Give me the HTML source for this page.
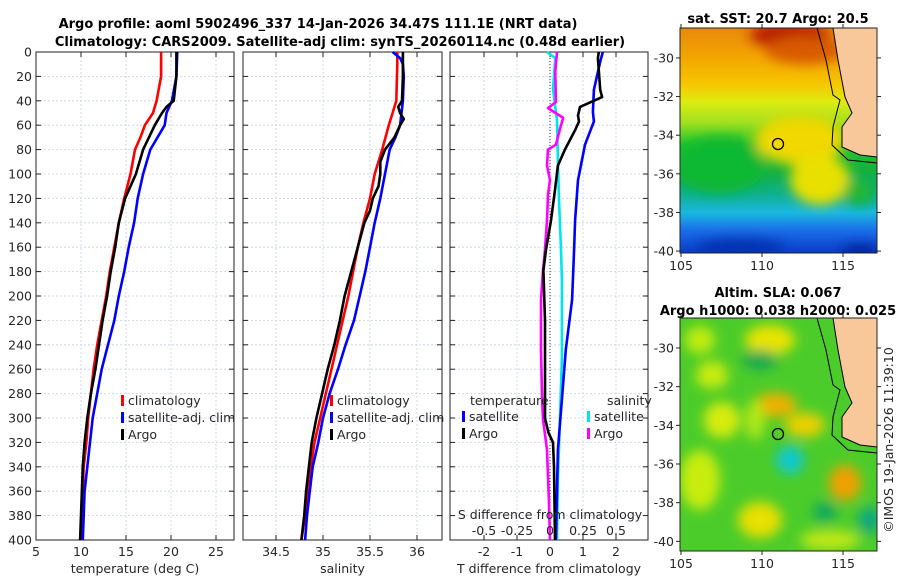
<!DOCTYPE html>
<html><head><meta charset="utf-8"><style>
html,body{margin:0;padding:0;background:#fff;}
svg{display:block;font-family:"DejaVu Sans","Liberation Sans",sans-serif;}
.t{font-size:12.5px;fill:#262626;}
.b{font-weight:bold;font-size:13px;fill:#000;}
</style></head><body>
<svg id="fig" width="900" height="580" viewBox="0 0 900 580" xmlns="http://www.w3.org/2000/svg">
<defs>
<filter id="blur6" x="-50%" y="-50%" width="200%" height="200%"><feGaussianBlur stdDeviation="6"/></filter>
<clipPath id="clipSST"><rect x="680" y="28" width="197" height="225"/></clipPath>
<clipPath id="clipSLA"><rect x="680" y="318" width="197" height="233"/></clipPath>
<linearGradient id="sstg" x1="0" y1="0" x2="0" y2="1">
<stop offset="0" stop-color="#e8890c"/><stop offset="0.12" stop-color="#f2a300"/>
<stop offset="0.25" stop-color="#f7c600"/><stop offset="0.33" stop-color="#ddec12"/>
<stop offset="0.42" stop-color="#a0e020"/><stop offset="0.52" stop-color="#22c42a"/>
<stop offset="0.64" stop-color="#13b040"/><stop offset="0.74" stop-color="#0fb090"/>
<stop offset="0.82" stop-color="#1ab8e0"/><stop offset="0.9" stop-color="#1a6ee8"/>
<stop offset="1" stop-color="#0a3cc8"/></linearGradient>
</defs>
<text class="b" x="318" y="28" text-anchor="middle">Argo profile: aoml 5902496_337 14-Jan-2026 34.47S 111.1E (NRT data)</text>
<text class="b" x="340" y="46" text-anchor="middle">Climatology: CARS2009. Satellite-adj clim: synTS_20260114.nc (0.48d earlier)</text>
<g id="p1"></g>
<g id="p2"></g>
<g id="p3"></g>

<!-- SST map -->
<text class="b" x="778" y="23" text-anchor="middle">sat. SST: 20.7 Argo: 20.5</text>
<g clip-path="url(#clipSST)">
<rect x="680" y="28" width="197" height="225" fill="url(#sstg)"/>
<g filter="url(#blur6)">
<ellipse cx="790" cy="35" rx="40" ry="14" fill="#b81c00"/>
<ellipse cx="805" cy="50" rx="40" ry="14" fill="#d85a00"/>
<ellipse cx="720" cy="165" rx="45" ry="28" fill="#10b830"/>
<ellipse cx="800" cy="140" rx="45" ry="25" fill="#f0d800"/>
<ellipse cx="820" cy="180" rx="30" ry="25" fill="#e8e000"/>
<ellipse cx="860" cy="192" rx="16" ry="14" fill="#10b040"/>
<ellipse cx="860" cy="192" rx="7" ry="6" fill="#30c020"/>
<ellipse cx="740" cy="248" rx="45" ry="9" fill="#0030b0"/>
<ellipse cx="860" cy="252" rx="18" ry="7" fill="#00209a"/>
</g>
<polygon points="833,28 877,28 877,157 860,155 842,147 842,127 852,113 845,97 838,60" fill="#f9c89a"/>
<polyline points="817,28 826,60 833,95 840,100 833,127 832,145 848,160 877,163" fill="none" stroke="#000" stroke-width="1"/>
<polyline points="833,28 838,60 845,97 852,113 842,127 842,147 860,155 877,157" fill="none" stroke="#000" stroke-width="1"/>
<circle cx="778" cy="144" r="5.5" fill="none" stroke="#000" stroke-width="1.3"/>
</g>
<rect x="680" y="28" width="197" height="225" fill="none" stroke="#222" stroke-width="1"/>
<g id="sstax"></g>

<!-- SLA map -->
<text class="b" x="778" y="297" text-anchor="middle">Altim. SLA: 0.067</text>
<text class="b" x="778" y="315" text-anchor="middle">Argo h1000: 0.038 h2000: 0.025</text>
<g clip-path="url(#clipSLA)">
<rect x="680" y="318" width="197" height="233" fill="#4ccc2a"/>
<g filter="url(#blur6)">
<ellipse cx="700" cy="340" rx="15" ry="14" fill="#c0ec10"/>
<ellipse cx="770" cy="340" rx="25" ry="15" fill="#e8e400"/>
<ellipse cx="712" cy="375" rx="16" ry="14" fill="#c8ec10"/>
<ellipse cx="760" cy="360" rx="18" ry="10" fill="#18a850"/>
<ellipse cx="775" cy="405" rx="22" ry="12" fill="#f0b000"/>
<ellipse cx="805" cy="425" rx="20" ry="12" fill="#eed000"/>
<ellipse cx="755" cy="420" rx="10" ry="20" fill="#b0e818"/>
<ellipse cx="722" cy="420" rx="18" ry="18" fill="#d8ec10"/>
<ellipse cx="790" cy="460" rx="14" ry="14" fill="#10c8d0"/>
<ellipse cx="845" cy="483" rx="16" ry="18" fill="#f0a000"/>
<ellipse cx="700" cy="480" rx="20" ry="30" fill="#c8ec10"/>
<ellipse cx="760" cy="520" rx="22" ry="18" fill="#e8e000"/>
<ellipse cx="825" cy="512" rx="12" ry="10" fill="#10a860"/>
<ellipse cx="870" cy="520" rx="12" ry="14" fill="#10a880"/>
<ellipse cx="830" cy="540" rx="30" ry="10" fill="#c0e818"/>
</g>
<polygon points="833,318 877,318 877,447 860,445 842,437 842,417 852,403 845,387 838,350" fill="#f9c89a"/>
<polyline points="817,318 826,350 833,385 840,390 833,417 832,435 848,450 877,453" fill="none" stroke="#000" stroke-width="1"/>
<polyline points="833,318 838,350 845,387 852,403 842,417 842,437 860,445 877,447" fill="none" stroke="#000" stroke-width="1"/>
<circle cx="778" cy="434" r="5.5" fill="none" stroke="#000" stroke-width="1.3"/>
</g>
<rect x="680" y="318" width="197" height="233" fill="none" stroke="#222" stroke-width="1"/>
<g id="slaax"></g>
<text class="t" transform="translate(893,440) rotate(-90)" text-anchor="middle">©IMOS 19-Jan-2026 11:39:10</text>
</svg>
<script>
// ---- data ----
const depthTicks=[0,20,40,60,80,100,120,140,160,180,200,220,240,260,280,300,320,340,360,380,400];
const tempTicks=[5,10,15,20,25];
const salTicks=[34.5,35,35.5,36];
const salTickLabels=["34.5","35","35.5","36"];
const tdiffTicks=[-2,-1,0,1,2];
const sdiffTickLabels=["-0.5","-0.25","0","0.25","0.5"];
const sdiffTicks=[-0.5,-0.25,0,0.25,0.5];

const tClimDepth=[0,20,40,50,60,70,80,100,120,140,160,180,200,220,240,260,280,300,320,340,360,380,400];
const tClim=[18.9,18.9,18.4,18.0,17.1,16.6,16.0,15.5,14.8,14.2,13.7,13.2,12.8,12.3,11.8,11.4,11.1,10.8,10.6,10.3,10.2,10.1,10.0];
const tSatDepth=[0,20,40,50,60,80,100,120,140,160,180,200,220,240,260,280,300,320,340,360,380,400];
const tSat=[20.7,20.6,20.1,19.5,19.3,17.7,16.9,16.3,15.9,15.3,14.8,14.2,13.7,13.0,12.3,11.8,11.3,11.0,10.7,10.4,10.3,10.2];
const tArgoDepth=[0,20,40,45,50,60,80,100,120,140,160,180,200,220,240,260,280,300,320,340,360,380,400];
const tArgo=[20.6,20.6,20.3,19.5,19.0,18.2,16.9,16.1,14.9,14.2,13.8,13.3,12.9,12.4,12.0,11.6,11.1,10.7,10.4,10.2,10.1,10.0,9.9];

const sClimDepth=[0,10,40,50,60,80,100,120,140,160,180,200,220,240,260,280,300,320,340,360,380,400];
const sClim=[35.79,35.79,35.78,35.74,35.70,35.63,35.55,35.50,35.43,35.37,35.32,35.27,35.21,35.15,35.09,35.03,34.97,34.91,34.87,34.84,34.81,34.77];
const sSatDepth=[0,5,10,20,40,60,70,80,100,120,140,160,180,200,220,240,260,280,300,320,340,360,380,400];
const sSat=[35.74,35.82,35.85,35.86,35.85,35.82,35.77,35.71,35.66,35.61,35.55,35.50,35.45,35.39,35.33,35.24,35.16,35.07,35.0,34.95,34.89,34.86,34.83,34.81];
const sArgoDepth=[0,20,40,45,50,55,60,70,80,90,100,110,120,130,140,160,180,200,220,240,260,280,300,320,340,360,380,400];
const sArgo=[35.85,35.85,35.84,35.80,35.82,35.86,35.82,35.76,35.66,35.61,35.61,35.59,35.53,35.50,35.44,35.37,35.30,35.23,35.18,35.12,35.05,34.99,34.93,34.88,34.85,34.82,34.80,34.77];

const dTSatDepth=[0,8,31,49,57,76,105,138,162,203,244,285,326,400];
const dTSat=[1.6,1.52,1.33,1.3,1.33,1.06,0.85,0.76,0.73,0.67,0.48,0.36,0.24,0.18];
const dTArgoDepth=[0,5,31,37,45,52,57,64,80,93,113,138,162,179,220,260,300,312,320,340,400];
const dTArgo=[1.48,1.45,1.52,1.58,0.91,0.85,0.88,0.76,0.45,0.24,0.15,0.03,-0.12,-0.2,-0.15,-0.15,-0.15,-0.05,0.09,0.12,0.15];
const dSSatDepth=[0,5,30,56,89,121,162,187,250,300,350,400];
const dSSat=[-0.023,0.04,0.023,0.053,0.06,0.068,0.083,0.09,0.09,0.076,0.06,0.053];
const dSArgoDepth=[0,16,41,46,54,60,76,80,93,105,117,138,162,179,203,244,285,301,326,367,400];
const dSArgo=[0.053,0.04,0.045,-0.015,0.1,0.083,0.045,-0.015,-0.023,0,-0.015,-0.023,-0.038,-0.053,-0.068,-0.068,-0.06,-0.053,-0.023,-0.008,0];

const lonTicks=[105,110,115];
const latTicks=[-30,-32,-34,-36,-38,-40];

// ---- helpers ----
const NS="http://www.w3.org/2000/svg";
function mk(tag,attrs,parent){const e=document.createElementNS(NS,tag);for(const k in attrs)e.setAttribute(k,attrs[k]);parent.appendChild(e);return e;}
const Y0=52,Y1=540;
const yD=d=>Y0+(d/400)*(Y1-Y0);

function panel(g,x0,x1,xs,xt,xtl,xlabel,showY){
  depthTicks.forEach(d=>{const l=mk('line',{x1:x0,x2:x1,y1:yD(d),y2:yD(d),stroke:'#c8cfe6','stroke-width':0.8,'stroke-dasharray':'2,2'},g);
    
    
    mk('line',{x1:x0,x2:x0+5,y1:yD(d),y2:yD(d),stroke:'#222'},g);mk('line',{x1:x1-5,x2:x1,y1:yD(d),y2:yD(d),stroke:'#222'},g);
    if(showY){const t=mk('text',{x:x0-4,y:yD(d)+4.5,'text-anchor':'end',class:'t'},g);t.textContent=d;
      
      }});
  xt.forEach((v,i)=>{const x=xs(v);const l=mk('line',{x1:x,x2:x,y1:Y0,y2:Y1,stroke:'#c8cfe6','stroke-width':0.8,'stroke-dasharray':'2,2'},g);
    
    
    mk('line',{x1:x,x2:x,y1:Y1-5,y2:Y1,stroke:'#222'},g);mk('line',{x1:x,x2:x,y1:Y0,y2:Y0+5,stroke:'#222'},g);
    const t=mk('text',{x:x,y:Y1+16,'text-anchor':'middle',class:'t'},g);t.textContent=xtl[i];
    
    });
  const fr=mk('rect',{x:x0,y:Y0,width:x1-x0,height:Y1-Y0,fill:'none',stroke:'#222','stroke-width':1},g);
  
  
  const xl=mk('text',{x:(x0+x1)/2,y:Y1+33,'text-anchor':'middle',class:'t'},g);xl.textContent=xlabel;
  
  
}
function line(g,xs,vals,deps,color,name,w){
  const pts=vals.map((v,i)=>xs(v).toFixed(1)+','+yD(deps[i]).toFixed(1)).join(' ');
  const p=mk('polyline',{points:pts,fill:'none',stroke:color,'stroke-width':w||2.6,'stroke-linejoin':'round'},g);
  
  
}
function legend(g,x,y,items){
  items.forEach((it,i)=>{const yy=y+i*17;
    mk('rect',{x:x,y:yy-10,width:3,height:11,fill:it[1]},g);
    const t=mk('text',{x:x+7,y:yy,class:'t'},g);t.textContent=it[0];
    
    });
}

const g1=document.getElementById('p1');
const xT=v=>36+(v-5)*9;
panel(g1,36,234,xT,tempTicks,tempTicks.map(String),'temperature (deg C)',true);
line(g1,xT,tClim,tClimDepth,'#ff0000','clim-temperature-line');
line(g1,xT,tSat,tSatDepth,'#0000ff','satellite-temperature-line');
line(g1,xT,tArgo,tArgoDepth,'#000000','argo-temperature-line');
legend(g1,121,405,[['climatology','#ff0000'],['satellite-adj. clim','#0000ff'],['Argo','#000']]);

const g2=document.getElementById('p2');
const xS=v=>323+(v-35)*94;
panel(g2,243,442,xS,salTicks,salTickLabels,'salinity',false);
line(g2,xS,sClim,sClimDepth,'#ff0000','clim-salinity-line');
line(g2,xS,sSat,sSatDepth,'#0000ff','satellite-salinity-line');
line(g2,xS,sArgo,sArgoDepth,'#000000','argo-salinity-line');
legend(g2,330,405,[['climatology','#ff0000'],['satellite-adj. clim','#0000ff'],['Argo','#000']]);

const g3=document.getElementById('p3');
const xdT=v=>550+v*33;
const xdS=v=>550+v*132;
panel(g3,450,648,xdT,tdiffTicks,tdiffTicks.map(String),'T difference from climatology',false);
const zl=mk('line',{x1:550,x2:550,y1:Y0,y2:Y1,stroke:'#333','stroke-width':1,'stroke-dasharray':'1,2'},g3);


line(g3,xdS,dSSat,dSSatDepth,'#00e5ee','satellite-salinity-diff-line');
line(g3,xdS,dSArgo,dSArgoDepth,'#ff00ff','argo-salinity-diff-line');
line(g3,xdT,dTSat,dTSatDepth,'#0000ff','satellite-temperature-diff-line');
line(g3,xdT,dTArgo,dTArgoDepth,'#000000','argo-temperature-diff-line');
{const t=mk('text',{x:470,y:405,class:'t'},g3);t.textContent='temperature';
 
 
 const t2=mk('text',{x:607,y:405,class:'t'},g3);t2.textContent='salinity';
 
 }
legend(g3,462,421,[['satellite','#0000ff'],['Argo','#000']]);
legend(g3,587,421,[['satellite','#00e5ee'],['Argo','#ff00ff']]);
{const t=mk('text',{x:550,y:519,'text-anchor':'middle',class:'t'},g3);t.textContent='S difference from climatology';
 
 }
sdiffTicks.forEach((v,i)=>{const t=mk('text',{x:xdS(v),y:535,'text-anchor':'middle',class:'t'},g3);t.textContent=sdiffTickLabels[i];
 
 });

function mapAxes(g,top,bot,latTop,latBot){
  const xL=v=>681+(v-105)*16.2;
  const yL=v=>top+(latTop-v)/(latTop-latBot)*(bot-top);
  lonTicks.forEach(v=>{const x=xL(v);mk('line',{x1:x,x2:x,y1:bot,y2:bot+4,stroke:'#222'},g);mk('line',{x1:x,x2:x,y1:top-4,y2:top,stroke:'#222'},g);
    const t=mk('text',{x:x,y:bot+17,'text-anchor':'middle',class:'t'},g);t.textContent=v;
    
    });
  latTicks.forEach(v=>{const y=yL(v);mk('line',{x1:676,x2:680,y1:y,y2:y,stroke:'#222'},g);mk('line',{x1:877,x2:881,y1:y,y2:y,stroke:'#222'},g);
    const t=mk('text',{x:674,y:y+4.5,'text-anchor':'end',class:'t'},g);t.textContent=v;
    
    });
}
mapAxes(document.getElementById('sstax'),28,253,-28.45,-40.1);
mapAxes(document.getElementById('slaax'),318,551,-28.45,-40.5);
</script>
</body></html>
